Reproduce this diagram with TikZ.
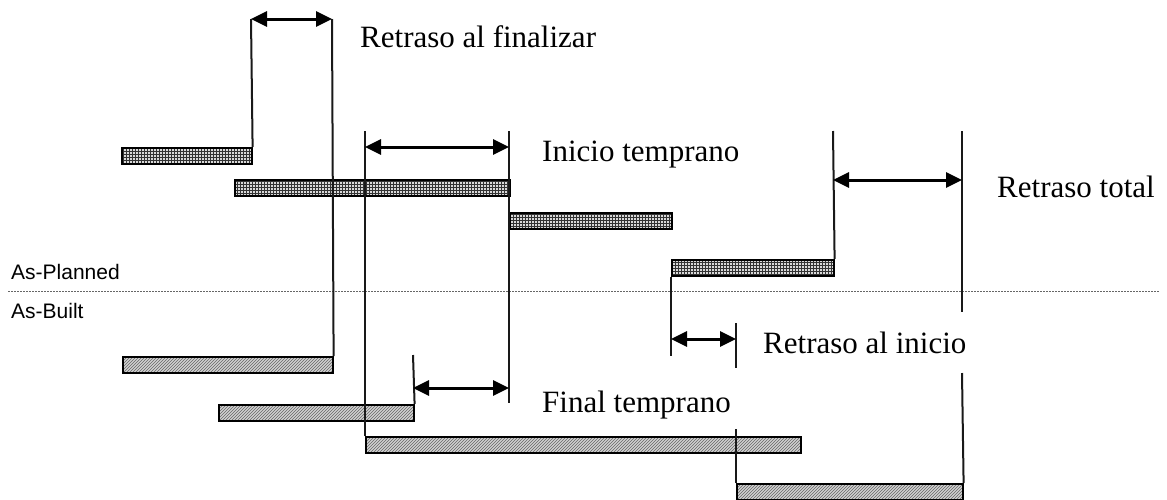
\documentclass[tikz,border=0pt]{standalone}
\usepackage{fontspec}
\setmainfont{Liberation Serif}
\newfontfamily\arialfont{Liberation Sans}
\usetikzlibrary{arrows.meta,patterns}
\tikzset{plan/.style={draw=black,line width=1.6pt,anchor=north west,inner sep=0pt,minimum height=16pt,preaction={fill=black!15},pattern=grid,pattern color=black!80},built/.style={draw=black,line width=1.6pt,anchor=north west,inner sep=0pt,minimum height=16pt,preaction={fill=black!18},pattern=north east lines,pattern color=black!60},vline/.style={line width=2pt,draw=black!90},dim/.style={{Triangle[length=16pt,width=15pt]}-{Triangle[length=16pt,width=15pt]},line width=3pt},lbl/.style={anchor=base west,inner sep=0pt,font=\fontsize{31}{36}\selectfont},tag/.style={anchor=base west,inner sep=0pt,font=\arialfont\fontsize{21}{25}\selectfont}}

\begin{document}
\begin{tikzpicture}[x=1pt,y=-1pt]
\useasboundingbox (0,0) rectangle (1167,499);
\node[plan,minimum width=130pt] (p1) at (121,147) {};
\node[plan,minimum width=275pt] (p2) at (234,179) {};
\node[plan,minimum width=162pt] (p3) at (509,212) {};
\node[plan,minimum width=162pt] (p4) at (671,259) {};
\node[built,minimum width=210pt] (b1) at (122,356) {};
\node[built,minimum width=195pt] (b2) at (218,404) {};
\node[built,minimum width=435pt] (b3) at (365,436) {};
\node[built,minimum width=226pt] (b4) at (736,483) {};
\coordinate (sepl) at (8,291);
\coordinate (sepr) at (1160,291);
\coordinate (t1) at (251,19);
\coordinate (t2) at (332,19);
\coordinate (t3) at (365,131);
\coordinate (t4) at (509,131);
\coordinate (e4) at (509,403);
\coordinate (t5) at (413,355);
\coordinate (e6) at (671,356);
\coordinate (t7) at (736,323);
\coordinate (e7) at (736,368);
\coordinate (m7) at (736,429);
\coordinate (t8) at (833,131);
\coordinate (t9) at (962,131);
\coordinate (e9) at (962,312);
\coordinate (m9) at (962,373);
\coordinate (a2l) at (365,147);
\coordinate (a2r) at (509,147);
\coordinate (a3l) at (413,388);
\coordinate (a3r) at (509,388);
\coordinate (a4l) at (671,339);
\coordinate (a4r) at (736,339);
\coordinate (a5l) at (833,180);
\coordinate (a5r) at (962,180);
\draw[black!60,line width=1pt,dash pattern=on 1.5pt off 1.5pt] (sepl) -- (sepr);
\draw[vline] (p1.north east) -- (t1);
\draw[vline] (b1.north east) -- (t2);
\draw[vline] (b3.north west) -- (t3);
\draw[vline] (t4) -- (e4);
\draw[vline] (b2.north east) -- (t5);
\draw[vline] (p4.south west) -- (e6);
\draw[vline] (t7) -- (e7);
\draw[vline] (b4.north west) -- (m7);
\draw[vline] (p4.north east) -- (t8);
\draw[vline] (t9) -- (e9);
\draw[vline] (b4.north east) -- (m9);
\draw[dim] (t1) -- (t2);
\draw[dim] (a2l) -- (a2r);
\draw[dim] (a3l) -- (a3r);
\draw[dim] (a4l) -- (a4r);
\draw[dim] (a5l) -- (a5r);
\node[lbl] (lfin) at (360,47) {Retraso al finalizar};
\node[lbl] (lini) at (542,161) {Inicio temprano};
\node[lbl] (ltot) at (997,197) {Retraso total};
\node[lbl] (lrin) at (763,353) {Retraso al inicio};
\node[lbl] (lftm) at (542,412) {Final temprano};
\node[tag] (asp) at (11,279) {As-Planned};
\node[tag] (asb) at (11,318) {As-Built};
\end{tikzpicture}
\end{document}
